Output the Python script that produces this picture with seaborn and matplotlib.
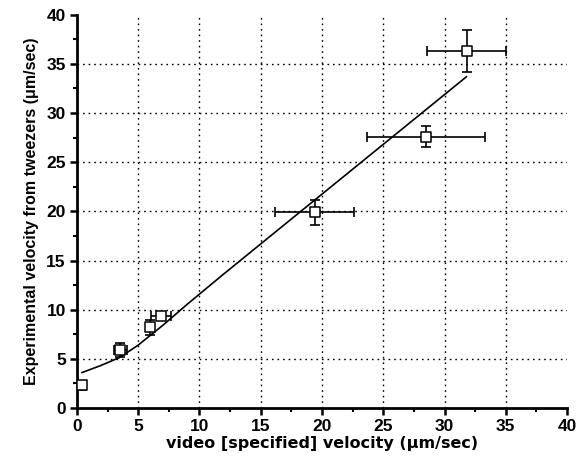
import numpy as np
import pandas as pd
import matplotlib
matplotlib.use("Agg")
import matplotlib.pyplot as plt
import seaborn as sns
from matplotlib.ticker import MultipleLocator

# Data points (video velocity vs experimental velocity)
video_vel = [0.4, 3.55, 6.0, 6.85, 19.4, 28.5, 31.8]
exp_vel = [2.3, 5.9, 8.2, 9.4, 19.9, 27.6, 36.3]
video_err = [0.0, 0.5, 0.3, 0.8, 3.2, 4.8, 3.2]
exp_err = [0.5, 0.75, 0.75, 0.4, 1.25, 1.1, 2.1]

# Fitted curve
fit_x = [0.4, 2.0, 3.5, 5.0, 7.0, 9.0, 12.0, 16.0, 20.0, 24.0, 28.0, 31.8]
fit_y = [3.6, 4.35, 5.15, 6.4, 8.4, 10.55, 13.65, 17.7, 21.75, 25.8, 29.85, 33.7]

xlabel = "video [specified] velocity (\u03bcm/sec)"
ylabel = "Experimental velocity from tweezers (\u03bcm/sec)"

sns.set_style("ticks", {"text.color": "black", "axes.labelcolor": "black",
                        "xtick.color": "black", "ytick.color": "black",
                        "axes.edgecolor": "black"})
plt.rcParams['font.family'] = ['Liberation Sans', 'DejaVu Sans']

fig = plt.figure(figsize=(5.87, 4.59), dpi=100)
ax = fig.add_axes([0.131, 0.111, 0.835, 0.857])

df_pts = pd.DataFrame({"x": video_vel, "y": exp_vel})
df_fit = pd.DataFrame({"x": fit_x, "y": fit_y})

# grid lines (dotted) at major ticks
for v in range(5, 40, 5):
    ax.axhline(v, color="black", lw=1.0, ls=(0, (1.2, 2.8)), zorder=0)
    ax.axvline(v, color="black", lw=1.0, ls=(0, (1.2, 2.8)), zorder=0)

sns.lineplot(data=df_fit, x="x", y="y", ax=ax, color="black", lw=1.2, zorder=2)
ax.errorbar(video_vel, exp_vel, xerr=video_err, yerr=exp_err, fmt="none",
            ecolor="black", elinewidth=1.2, capsize=3.5, capthick=1.2, zorder=3)
sns.scatterplot(data=df_pts, x="x", y="y", ax=ax, marker="s", s=45,
                facecolor="white", edgecolor="black", linewidth=1.1, zorder=4)

ax.set_xlim(0, 40)
ax.set_ylim(0, 40)
ax.xaxis.set_major_locator(MultipleLocator(5))
ax.yaxis.set_major_locator(MultipleLocator(5))
ax.xaxis.set_minor_locator(MultipleLocator(2.5))
ax.yaxis.set_minor_locator(MultipleLocator(2.5))
ax.tick_params(which="major", direction="out", length=5, width=1.8, labelsize=12.5,
               pad=3, colors="black")
ax.tick_params(which="minor", direction="out", length=3, width=1.5, colors="black")
for lab in ax.get_xticklabels() + ax.get_yticklabels():
    lab.set_fontweight("bold")

for s in ["top", "right"]:
    ax.spines[s].set_visible(False)
for s in ["left", "bottom"]:
    ax.spines[s].set_linewidth(2.0)
    ax.spines[s].set_color("black")

ax.set_xlabel(xlabel, fontsize=11.5, fontweight="bold", labelpad=1,
              family=["DejaVu Sans"], color="black")
ax.set_ylabel(ylabel, fontsize=11.5, fontweight="bold", labelpad=5, color="black")

fig.savefig("out.png", dpi=100)
